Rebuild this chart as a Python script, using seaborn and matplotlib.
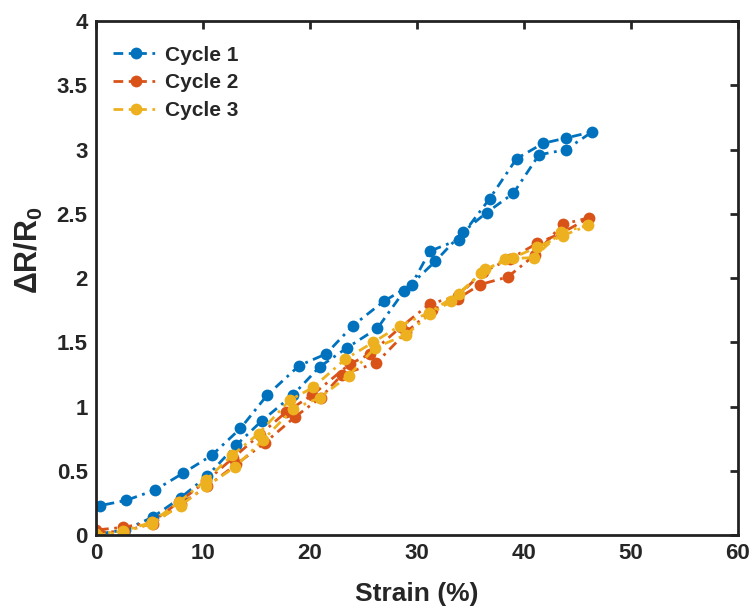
import pandas as pd
import matplotlib
matplotlib.use("Agg")
import matplotlib.pyplot as plt
import seaborn as sns

# === DATA ===
# each cycle: loading branch then unloading branch, in drawing order
cycle1_strain = [0.3, 2.7, 5.3, 7.9, 10.4, 13.1, 15.5, 18.4, 20.9, 23.5, 26.3, 28.8, 31.7, 34.3,
                 36.5, 39.0, 41.4, 43.9, 46.4,
                 43.9, 41.8, 39.3, 36.8, 33.9, 31.2, 29.5, 26.9, 24.0, 21.5, 19.0, 16.0, 13.5,
                 10.8, 8.1, 5.5, 2.8, 0.4]
cycle1_dr = [0.01, 0.04, 0.14, 0.29, 0.46, 0.70, 0.89, 1.09, 1.31, 1.46, 1.61, 1.90, 2.13, 2.36,
             2.51, 2.66, 2.96, 3.00, 3.14,
             3.09, 3.05, 2.93, 2.62, 2.30, 2.21, 1.95, 1.82, 1.63, 1.41, 1.32, 1.09, 0.83,
             0.62, 0.48, 0.35, 0.27, 0.23]

cycle2_strain = [0.0, 2.6, 5.3, 7.9, 10.4, 13.1, 15.8, 18.6, 21.0, 23.0, 26.2, 29.0, 31.4, 33.8,
                 35.9, 38.5, 41.0, 43.6, 46.1,
                 43.5, 41.2, 38.7, 36.2, 33.8, 31.2, 28.5, 25.6, 23.7, 20.2, 17.8, 15.3, 12.8,
                 10.3, 7.8, 5.2, 2.5, 0.0]
cycle2_dr = [0.02, 0.03, 0.09, 0.24, 0.38, 0.55, 0.72, 0.92, 1.07, 1.25, 1.34, 1.58, 1.75, 1.84,
             1.95, 2.01, 2.18, 2.42, 2.47,
             2.35, 2.27, 2.15, 2.05, 1.86, 1.80, 1.62, 1.41, 1.33, 1.09, 0.96, 0.78, 0.60,
             0.42, 0.26, 0.10, 0.06, 0.04]

cycle3_strain = [0.0, 2.5, 5.2, 7.9, 10.3, 13.0, 15.6, 18.4, 20.9, 23.6, 26.1, 29.0, 31.2, 33.2,
                 36.0, 38.2, 40.9, 43.5, 46.0,
                 43.6, 41.2, 39.0, 36.4, 33.9, 31.1, 28.4, 25.9, 23.3, 20.3, 18.1, 15.2, 12.7,
                 10.3, 7.8, 5.2, 2.5, 0.0]
cycle3_dr = [0.00, 0.02, 0.09, 0.23, 0.38, 0.53, 0.74, 0.98, 1.07, 1.24, 1.46, 1.56, 1.72, 1.82,
             2.04, 2.15, 2.16, 2.36, 2.41,
             2.33, 2.24, 2.16, 2.07, 1.88, 1.73, 1.63, 1.50, 1.37, 1.15, 1.05, 0.79, 0.62,
             0.43, 0.26, 0.10, 0.03, 0.01]

cycle_names = ["Cycle 1", "Cycle 2", "Cycle 3"]
colors = ["#0072BD", "#D95319", "#EDB120"]

# === STYLE ===
sns.set_style("white")
plt.rcParams["font.family"] = ["Liberation Sans", "DejaVu Sans"]
plt.rcParams["font.weight"] = "bold"
plt.rcParams["mathtext.fontset"] = "custom"
plt.rcParams["mathtext.rm"] = "Liberation Sans:bold"
plt.rcParams["mathtext.default"] = "rm"

fig = plt.figure(figsize=(7.5, 6.06), dpi=100)
ax = fig.add_axes([0.128, 0.117, 0.856, 0.848])

# one call per cycle so the legend keeps the dash-dot style
for name, xs, ys, col in zip(cycle_names,
                             [cycle1_strain, cycle2_strain, cycle3_strain],
                             [cycle1_dr, cycle2_dr, cycle3_dr], colors):
    d = pd.DataFrame({"strain": xs, "dr": ys})
    sns.lineplot(data=d, x="strain", y="dr", sort=False, estimator=None,
                 color=col, marker="o", markersize=8.5, markeredgewidth=0,
                 linewidth=2, label=name, ax=ax)

for line in ax.lines:
    line.set_linestyle((0, (3.5, 2, 1, 2)))

ax.set_xlim(0, 60)
ax.set_ylim(0, 4)
ax.set_xticks(range(0, 61, 10))
ax.set_yticks([0, 0.5, 1, 1.5, 2, 2.5, 3, 3.5, 4])
ax.set_yticklabels(["0", "0.5", "1", "1.5", "2", "2.5", "3", "3.5", "4"])
ax.tick_params(direction="in", top=True, right=True, length=6, width=2,
               labelsize=16, pad=6)
for lab in ax.get_xticklabels() + ax.get_yticklabels():
    lab.set_fontweight("bold")
for s in ax.spines.values():
    s.set_visible(True)
    s.set_color("#222222")
    s.set_linewidth(2)

ax.set_xlabel("Strain (%)", fontsize=19, fontweight="bold", labelpad=13)
ax.set_ylabel("ΔR/R$_0$", fontsize=22, fontweight="bold")
ax.yaxis.set_label_coords(-0.08, 0.555)

leg = ax.legend(loc="upper left", frameon=False, fontsize=15, handlelength=2.2,
                handletextpad=0.3, labelspacing=0.42, borderaxespad=0.4,
                bbox_to_anchor=(0.0, 0.985))
for t in leg.get_texts():
    t.set_fontweight("bold")

fig.savefig("out.png", dpi=100)
